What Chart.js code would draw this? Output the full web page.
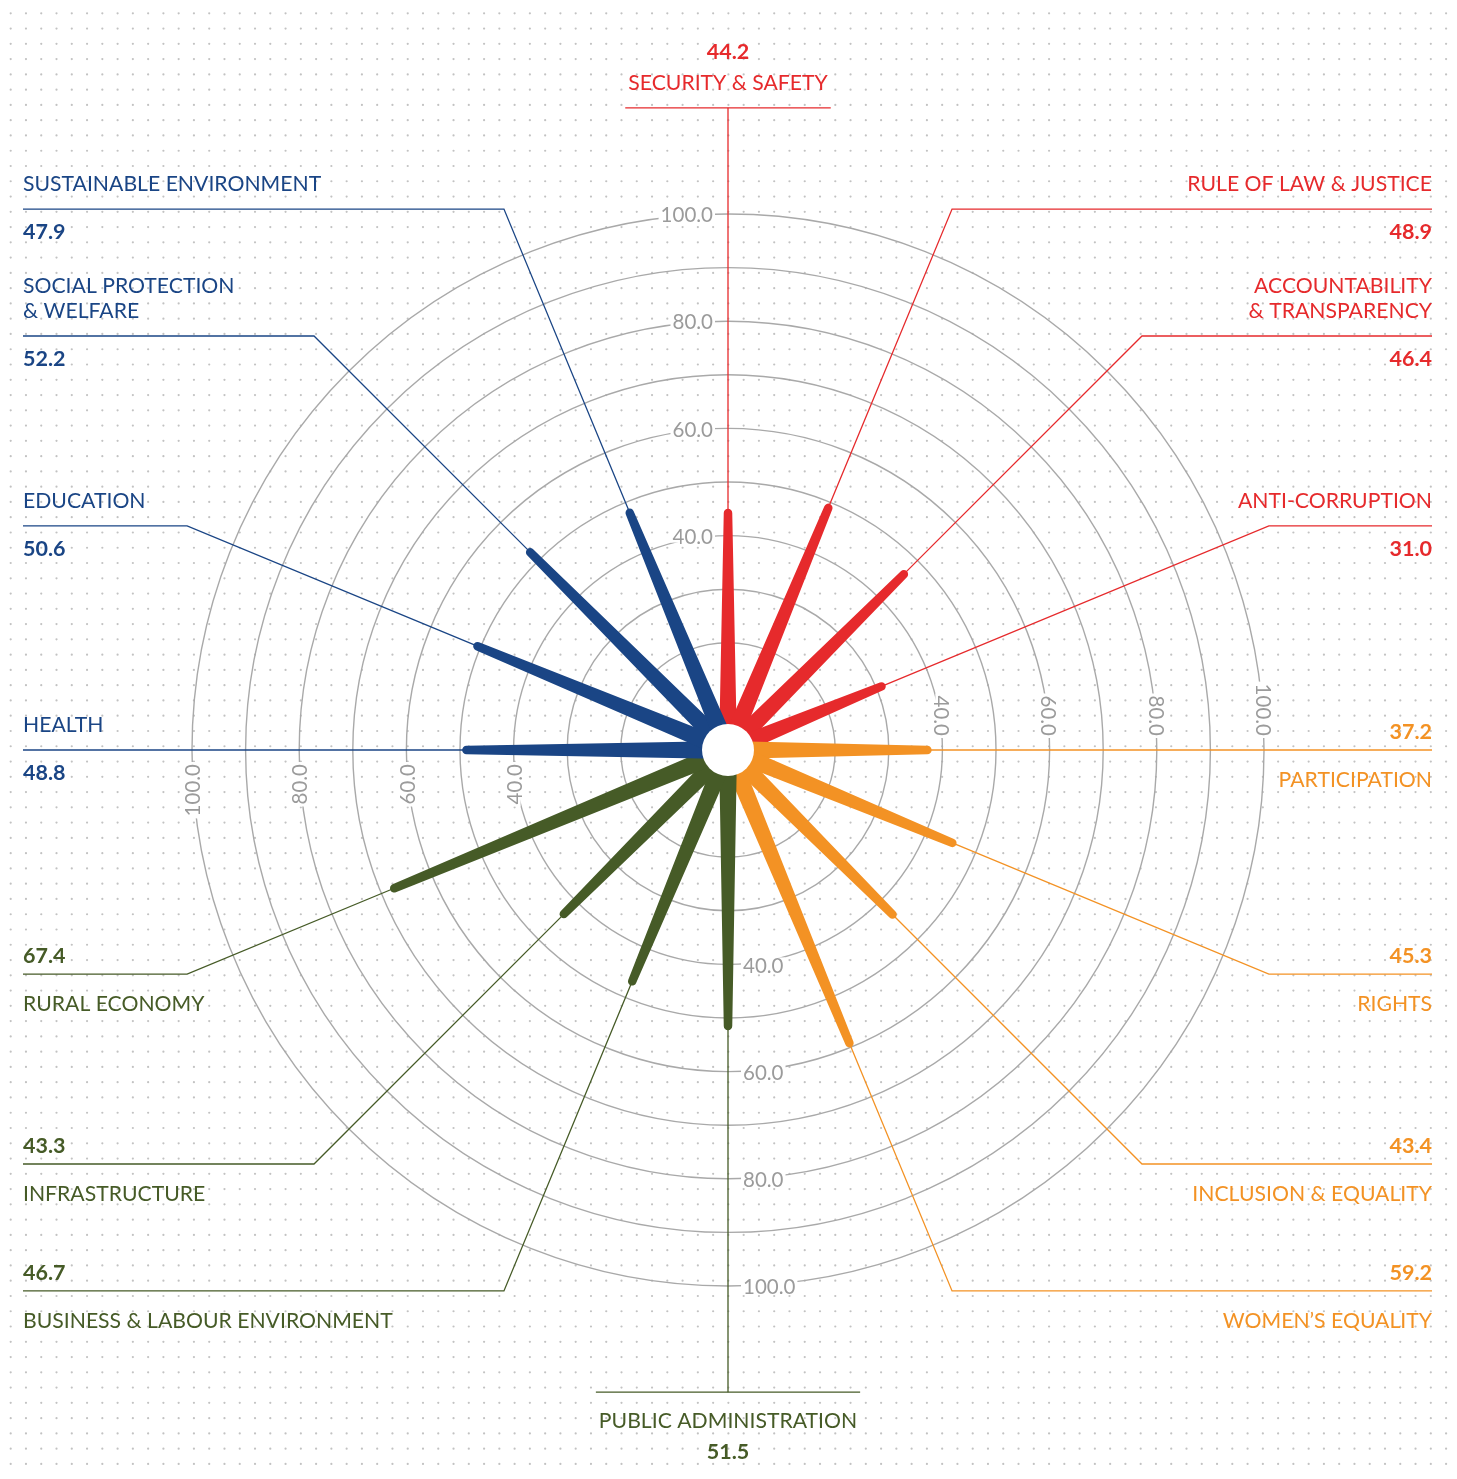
<!DOCTYPE html>
<html><head><meta charset="utf-8">
<script src="https://cdn.jsdelivr.net/npm/chart.js@4.4.1/dist/chart.umd.min.js"></script>
<style>html,body{margin:0;padding:0;background:#fff;} canvas{display:block;}</style>
</head><body>
<canvas id="c" width="1457" height="1479"></canvas>
<script>
// ---- data ----
const categories = [
  'SECURITY & SAFETY', 'RULE OF LAW & JUSTICE', ['ACCOUNTABILITY', '& TRANSPARENCY'], 'ANTI-CORRUPTION',
  'PARTICIPATION', 'RIGHTS', 'INCLUSION & EQUALITY', 'WOMEN\u2019S EQUALITY',
  'PUBLIC ADMINISTRATION', 'BUSINESS & LABOUR ENVIRONMENT', 'INFRASTRUCTURE', 'RURAL ECONOMY',
  'HEALTH', 'EDUCATION', ['SOCIAL PROTECTION', '& WELFARE'], 'SUSTAINABLE ENVIRONMENT'
];
const scores = [44.2, 48.9, 46.4, 31.0, 37.2, 45.3, 43.4, 59.2, 51.5, 46.7, 43.3, 67.4, 48.8, 50.6, 52.2, 47.9];
const groups = ['safety','safety','safety','safety','inclusion','inclusion','inclusion','inclusion',
                'economy','economy','economy','economy','human','human','human','human'];
const tickLabels = [40, 60, 80, 100];

// ---- styles ----
const COLORS = {safety:'#E62A2C', inclusion:'#F39224', economy:'#465B27', human:'#1A4585'};
const FONT = 'Lato, "Open Sans", sans-serif';
const NAME_FONT = '21.2px ' + FONT;
const VALUE_FONT = 'bold 21.5px ' + FONT;

function spoke(ctx, cx, cy, x, y, w0, w1) {
  const dx = x - cx, dy = y - cy, L = Math.hypot(dx, dy);
  const ux = dx / L, uy = dy / L, nx = -uy, ny = ux;
  const a = Math.atan2(ny, nx);
  ctx.beginPath();
  ctx.moveTo(cx + nx * w0 / 2, cy + ny * w0 / 2);
  ctx.lineTo(x + nx * w1 / 2, y + ny * w1 / 2);
  ctx.arc(x, y, w1 / 2, a, a + Math.PI, true);
  ctx.lineTo(cx - nx * w0 / 2, cy - ny * w0 / 2);
  ctx.closePath();
  ctx.fill();
}

const radialPlugin = {
  id: 'radialDeco',
  beforeDraw(chart) {
    const ctx = chart.ctx;
    ctx.save();
    ctx.fillStyle = '#ffffff';
    ctx.fillRect(0, 0, chart.width, chart.height);
    ctx.fillStyle = '#c2c2c2';
    for (let y = 13.3; y < chart.height; y += 15.27) {
      for (let x = 10.7; x < chart.width; x += 15.27) {
        ctx.beginPath(); ctx.arc(x, y, 1.1, 0, Math.PI * 2); ctx.fill();
      }
    }
    ctx.restore();
  },
  afterDatasetsDraw(chart) {
    const ctx = chart.ctx;
    const scale = chart.scales.r;
    const meta = chart.getDatasetMeta(0);
    const cx = scale.xCenter, cy = scale.yCenter, R = scale.drawingArea;
    const leftEdge = 23, rightEdge = 1432;
    const n = categories.length;
    const dyText = 2;

    ctx.save();
    // tick labels along the four axes
    ctx.font = '20.5px ' + FONT;
    ctx.textBaseline = 'middle';
    const axes = [
      {dx: 0, dy: -1, rot: 0, align: 'right', off: -15},
      {dx: 1, dy: 0, rot: Math.PI / 2, align: 'right', off: -14},
      {dx: 0, dy: 1, rot: 0, align: 'left', off: 15},
      {dx: -1, dy: 0, rot: -Math.PI / 2, align: 'right', off: -14}
    ];
    axes.forEach(ax => {
      tickLabels.forEach(v => {
        const d = scale.getDistanceFromCenterForValue(v);
        const txt = v.toFixed(1);
        const w = ctx.measureText(txt).width;
        ctx.save();
        ctx.translate(cx + ax.dx * d, cy + ax.dy * d);
        ctx.rotate(ax.rot);
        const x0 = ax.align === 'right' ? ax.off - w : ax.off;
        ctx.fillStyle = '#ffffff';
        ctx.fillRect(x0 - 2, -7, w + 4, 14);
        ctx.fillStyle = '#9b9b9b';
        ctx.textAlign = ax.align;
        ctx.fillText(txt, ax.off, 1.5);
        ctx.restore();
      });
    });

    // leader lines and labels
    for (let i = 0; i < n; i++) {
      const col = COLORS[groups[i]];
      const pt = meta.data[i];
      const names = Array.isArray(categories[i]) ? categories[i] : [categories[i]];
      const val = scores[i].toFixed(1);
      ctx.strokeStyle = col;
      ctx.fillStyle = col;
      ctx.lineWidth = 1.3;
      ctx.beginPath();
      ctx.moveTo(pt.x, pt.y);
      if (i === 0 || i === n / 2) {
        const sgn = i === 0 ? -1 : 1;
        const ly = cy + sgn * R * 1.198;
        ctx.lineTo(cx, ly);
        ctx.stroke();
        ctx.font = NAME_FONT;
        const w = ctx.measureText(names[0]).width;
        ctx.beginPath(); ctx.moveTo(cx - w / 2 - 3, ly); ctx.lineTo(cx + w / 2 + 3, ly); ctx.stroke();
        ctx.textAlign = 'center'; ctx.textBaseline = 'middle';
        ctx.fillText(names[0], cx, ly + sgn * 27 + dyText);
        ctx.font = VALUE_FONT;
        ctx.fillText(val, cx, ly + sgn * 58 + dyText);
        continue;
      }
      const right = i < n / 2;
      let ly;
      if (i === n / 4 || i === 3 * n / 4) {
        ly = cy;
        ctx.lineTo(right ? rightEdge : leftEdge, cy);
      } else {
        const p = scale.getPointPosition(i, R * 1.0923);
        ly = p.y;
        ctx.lineTo(p.x, p.y);
        ctx.lineTo(right ? rightEdge : leftEdge, p.y);
      }
      ctx.stroke();
      const tx = right ? rightEdge : leftEdge;
      ctx.textAlign = right ? 'right' : 'left';
      ctx.textBaseline = 'middle';
      const upper = ly < cy || (i === 3 * n / 4);
      if (upper) {
        ctx.font = NAME_FONT;
        for (let k = 0; k < names.length; k++) {
          ctx.fillText(names[k], tx, ly - 27 - (names.length - 1 - k) * 25 + dyText);
        }
        ctx.font = VALUE_FONT;
        ctx.fillText(val, tx, ly + 21 + dyText);
      } else {
        ctx.font = VALUE_FONT;
        ctx.fillText(val, tx, ly - 20 + dyText);
        ctx.font = NAME_FONT;
        ctx.fillText(names[0], tx, ly + 28 + dyText);
      }
    }

    // spokes
    for (let i = 0; i < n; i++) {
      const pt = meta.data[i];
      ctx.fillStyle = COLORS[groups[i]];
      spoke(ctx, cx, cy, pt.x, pt.y, 18, 8.5);
    }
    // centre disc
    ctx.fillStyle = '#ffffff';
    ctx.beginPath(); ctx.arc(cx, cy, 26, 0, Math.PI * 2); ctx.fill();
    ctx.restore();
  }
};

new Chart(document.getElementById('c'), {
  type: 'radar',
  data: {
    labels: categories,
    datasets: [{
      data: scores,
      borderWidth: 0,
      borderColor: 'rgba(0,0,0,0)',
      backgroundColor: 'rgba(0,0,0,0)',
      pointRadius: 0,
      pointHoverRadius: 0,
      fill: false
    }]
  },
  options: {
    responsive: false,
    animation: false,
    devicePixelRatio: 1,
    events: [],
    layout: {padding: {left: 192, right: 193, top: 214, bottom: 193}},
    plugins: {legend: {display: false}, tooltip: {enabled: false}},
    scales: {
      r: {
        min: 0, max: 100,
        ticks: {display: false, stepSize: 10},
        grid: {
          circular: true,
          lineWidth: 1.4,
          color: c => (c.tick && c.tick.value === 10) ? 'rgba(0,0,0,0)' : '#a9a9a9'
        },
        angleLines: {display: false},
        pointLabels: {display: false}
      }
    }
  },
  plugins: [radialPlugin]
});
</script>
</body></html>
